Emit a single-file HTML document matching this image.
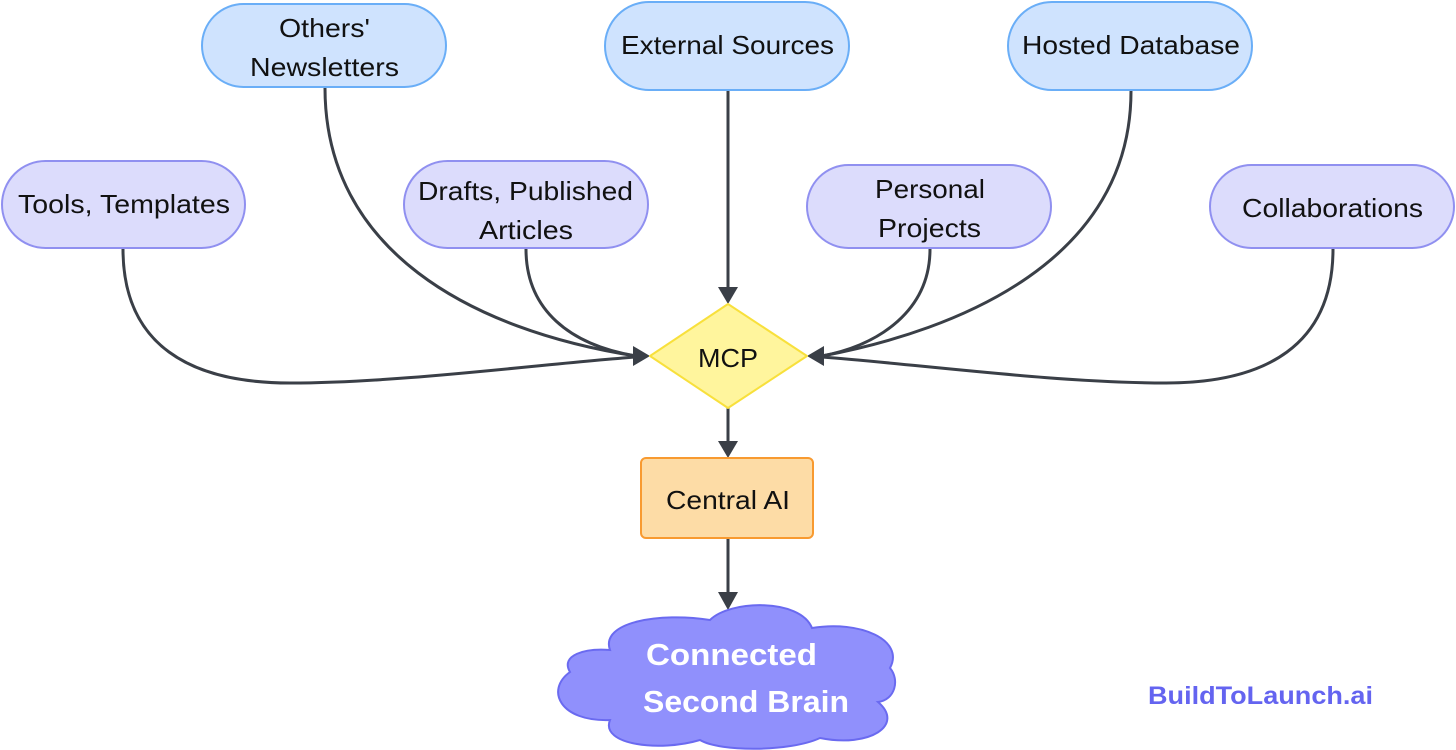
<!DOCTYPE html>
<html><head><meta charset="utf-8"><style>
html,body{margin:0;padding:0;background:#fff;}
svg{display:block;}
text{font-family:"Liberation Sans",sans-serif;font-size:26px;fill:#111;}
</style></head><body>
<svg width="1456" height="750" viewBox="0 0 1456 750" xmlns="http://www.w3.org/2000/svg">
<g fill="none" stroke="#3a3f47" stroke-width="3">
<path d="M123,249 C123,345 190,383 290,383 C400,383 540,364 636,357"/>
<path d="M325,88 C325,250 470,330 636,356"/>
<path d="M526,249 C526,310 570,345 636,356"/>
<path d="M728,91 L728,290"/>
<path d="M930,249 C930,310 880,345 822,356"/>
<path d="M1131,91 C1131,260 960,330 822,356"/>
<path d="M1333,249 C1333,345 1266,383 1166,383 C1056,383 916,364 822,357"/>
<path d="M728,408 L728,442"/>
<path d="M728,538 L728,594"/>
</g>
<g fill="#3a3f47">
<polygon points="650,356 633,346 633,366"/>
<polygon points="807,356 824,346 824,366"/>
<polygon points="728,304 718,287 738,287"/>
<polygon points="728,458 718,441 738,441"/>
<polygon points="728,610 718,592 738,592"/>
</g>
<g fill="#cfe3fe" stroke="#6aaef7" stroke-width="2">
<rect x="202" y="4" width="244" height="83" rx="41.5"/>
<rect x="605" y="2" width="244" height="88" rx="44"/>
<rect x="1008" y="2" width="244" height="88" rx="44"/>
</g>
<g fill="#dcdcfc" stroke="#9090f0" stroke-width="2">
<rect x="2" y="161" width="243" height="87" rx="43.5"/>
<rect x="404" y="161" width="244" height="87" rx="43.5"/>
<rect x="807" y="165" width="244" height="83" rx="41.5"/>
<rect x="1210" y="165" width="244" height="83" rx="41.5"/>
</g>
<polygon points="728,304 807,356 728,408 650,356" fill="#fff59d" stroke="#f8e03c" stroke-width="2" stroke-linejoin="round"/>
<rect x="641" y="458" width="172" height="80" rx="5" fill="#fddca6" stroke="#f89a30" stroke-width="2"/>
<path d="M610,650 C600,622 660,612 710,620 C730,600 800,598 812,628 C860,620 905,640 890,668 C900,680 895,700 878,702 C905,725 870,748 820,738 C790,752 720,752 700,740 C660,752 600,745 610,720 C560,722 545,690 570,672 C560,655 585,648 610,650 Z" fill="#9090fc" stroke="#6a6af0" stroke-width="2"/>
<g>
<text x="279" y="37" textLength="91" lengthAdjust="spacingAndGlyphs">Others'</text>
<text x="250" y="76" textLength="149" lengthAdjust="spacingAndGlyphs">Newsletters</text>
<text x="621" y="54" textLength="213" lengthAdjust="spacingAndGlyphs">External Sources</text>
<text x="1022" y="54" textLength="218" lengthAdjust="spacingAndGlyphs">Hosted Database</text>
<text x="18" y="213" textLength="212" lengthAdjust="spacingAndGlyphs">Tools, Templates</text>
<text x="418" y="200" textLength="215" lengthAdjust="spacingAndGlyphs">Drafts, Published</text>
<text x="479" y="239" textLength="94" lengthAdjust="spacingAndGlyphs">Articles</text>
<text x="875" y="198" textLength="110" lengthAdjust="spacingAndGlyphs">Personal</text>
<text x="878" y="237" textLength="103" lengthAdjust="spacingAndGlyphs">Projects</text>
<text x="1242" y="217" textLength="181" lengthAdjust="spacingAndGlyphs">Collaborations</text>
<text x="698" y="367" textLength="60" lengthAdjust="spacingAndGlyphs">MCP</text>
<text x="666" y="509" textLength="124" lengthAdjust="spacingAndGlyphs">Central AI</text>
<text x="646" y="665" textLength="171" lengthAdjust="spacingAndGlyphs" style="font-size:31px;font-weight:bold;fill:#fff">Connected</text>
<text x="643" y="712" textLength="206" lengthAdjust="spacingAndGlyphs" style="font-size:31px;font-weight:bold;fill:#fff">Second Brain</text>
<text x="1148" y="704" textLength="225" lengthAdjust="spacingAndGlyphs" style="font-size:25px;font-weight:bold;fill:#6464f0">BuildToLaunch.ai</text>
</g>
</svg>
</body></html>
